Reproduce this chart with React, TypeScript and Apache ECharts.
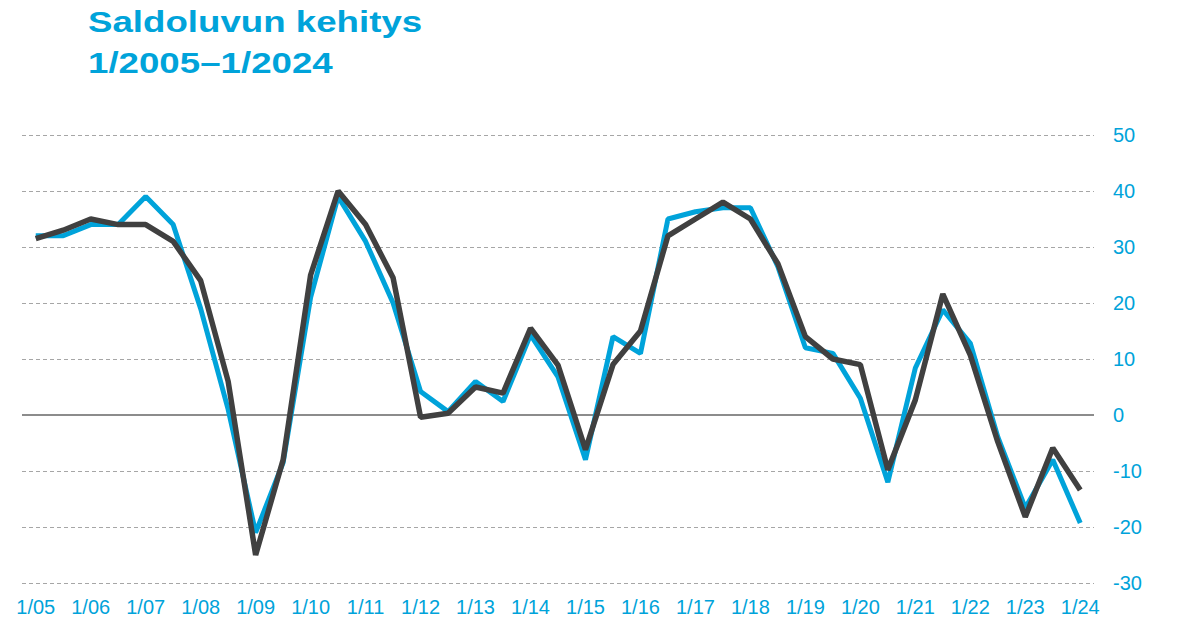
import React, { useEffect, useRef } from "react";
import * as echarts from "echarts";

const years = ["05","06","07","08","09","10","11","12","13","14","15","16","17","18","19","20","21","22","23","24"];
const categories: string[] = [];
years.forEach((y, i) => {
  categories.push("1/" + y);
  if (i < years.length - 1) categories.push("7/" + y);
});

const seriesBlue = [32, 32, 34, 34, 39, 34, 19, 1, -21, -8.5, 21, 39, 31, 20, 4.2, 0.6, 6, 2.4, 14.3, 6.8, -8, 14, 11, 35, 36.3, 37, 37, 26.5, 12, 11, 3, -12, 8.4, 18.8, 12.8, -3.9, -16.6, -8, -19.3];
const seriesDark = [31.5, 33, 35, 34, 34, 31, 24, 6, -25, -8, 25, 40, 34, 24.5, -0.4, 0.3, 5, 3.9, 15.5, 8.9, -6.2, 9, 15, 32, 35, 38, 35, 27, 14, 10, 9, -9.8, 2.7, 21.6, 10.7, -4.8, -18.2, -5.9, -13.4];

const titleLines = ["Saldoluvun kehitys", "1/2005–1/2024"];

const BLUE = "#00A3DA";
const DARK = "#404040";

export default function App() {
  const ref = useRef<HTMLDivElement>(null);
  useEffect(() => {
    document.body.style.margin = "0";
    const chart = echarts.init(ref.current!, undefined, { renderer: "svg" });
    chart.setOption({
      animation: false,
      graphic: titleLines.map((t, i) => ({
        type: "text",
        x: 88,
        y: 22 + i * 41,
        scaleX: 1.31,
        scaleY: 1.04,
        style: {
          text: t,
          x: 0,
          y: 0,
          fill: BLUE,
          font: "bold 28px 'Liberation Sans', Arial, sans-serif",
          verticalAlign: "middle",
        },
      })),
      grid: { left: 22, right: 84, top: 135, bottom: 37 },
      xAxis: {
        type: "category",
        data: categories,
        boundaryGap: true,
        axisLine: { show: false },
        axisTick: { show: false },
        splitLine: { show: false },
        axisLabel: {
          interval: 1,
          color: BLUE,
          fontSize: 20,
          fontFamily: "'Liberation Sans', Arial, sans-serif",
          margin: 14,
        },
      },
      yAxis: {
        type: "value",
        position: "right",
        min: -30,
        max: 50,
        interval: 10,
        axisLine: { show: false },
        axisTick: { show: false },
        axisLabel: {
          color: BLUE,
          fontSize: 20,
          fontFamily: "'Liberation Sans', Arial, sans-serif",
          margin: 19,
        },
        splitLine: { lineStyle: { color: "#A6A6A6", width: 1, type: [4, 3] } },
      },
      series: [
        {
          type: "line",
          data: seriesBlue,
          symbol: "none",
          lineStyle: { color: BLUE, width: 5 },
          z: 2,
          markLine: {
            silent: true,
            symbol: "none",
            label: { show: false },
            lineStyle: { color: "#8C8C8C", width: 2, type: "solid" },
            data: [{ yAxis: 0 }],
            z: 1,
          },
        },
        {
          type: "line",
          data: seriesDark,
          symbol: "none",
          lineStyle: { color: DARK, width: 5.5 },
          z: 3,
        },
      ],
    });
    return () => chart.dispose();
  }, []);
  return <div ref={ref} style={{ width: 1178, height: 620 }} />;
}
